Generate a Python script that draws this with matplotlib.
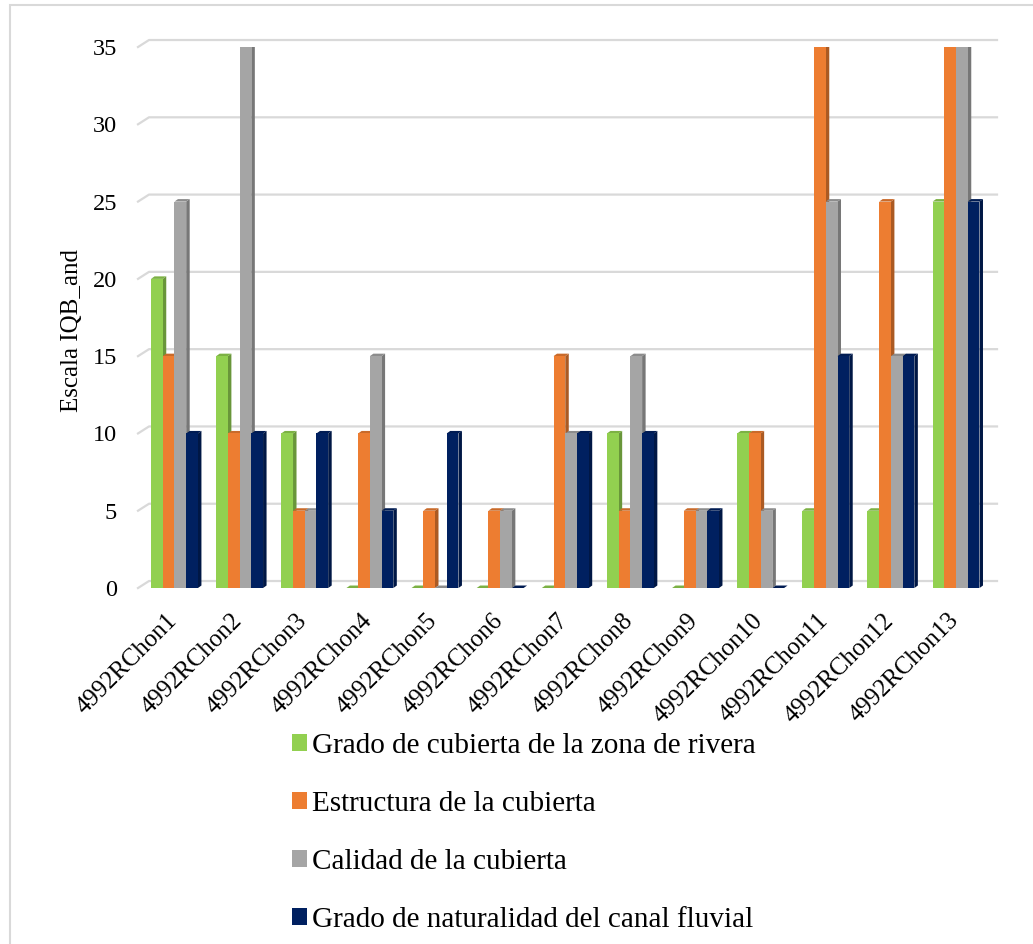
import numpy as np
import matplotlib.pyplot as plt
from matplotlib.patches import Polygon, Rectangle, Patch
from matplotlib.transforms import ScaledTranslation

plt.rcParams['font.family'] = ['Liberation Serif', 'DejaVu Serif']

categories = ['4992RChon%d' % i for i in range(1, 14)]
series_names = ['Grado de cubierta de la zona de rivera',
                'Estructura de la cubierta',
                'Calidad de la cubierta',
                'Grado de naturalidad del canal fluvial']
grado_cubierta = [20, 15, 10, 0, 0, 0, 0, 10, 0, 10, 5, 5, 25]
estructura = [15, 10, 5, 10, 5, 5, 15, 5, 5, 10, 35, 25, 35]
calidad = [25, 35, 5, 15, 0, 5, 10, 15, 5, 5, 25, 15, 35]
naturalidad = [10, 10, 10, 5, 10, 0, 10, 10, 5, 0, 15, 15, 25]
yticks = [0, 5, 10, 15, 20, 25, 30, 35]

colors = ['#92D050', '#ED7D31', '#A5A5A5', '#002060']
values = [grado_cubierta, estructura, calidad, naturalidad]


def shade(c, f):
    rgb = np.array(plt.matplotlib.colors.to_rgb(c))
    return tuple(rgb * f)


fig = plt.figure(figsize=(10.33, 9.44), dpi=100)
ax = fig.add_axes([0.1336, 0.3771, 0.8209, 0.5731])
xlim = (-0.56, 12.46)
ax.set_xlim(*xlim)
ax.set_ylim(0, 35)
for s in ax.spines.values():
    s.set_visible(False)
ax.patch.set_alpha(0)

# pixel -> data conversion for the 3d offsets
pos = ax.get_position()
px_x = fig.get_figwidth() * fig.dpi * pos.width / (xlim[1] - xlim[0])
px_y = fig.get_figheight() * fig.dpi * pos.height / 35.0

# back wall gridlines
gx, gy = 11 / px_x, 7 / px_y
for v in yticks:
    ax.plot([xlim[0], xlim[0] + gx, xlim[1] + gx], [v, v + gy, v + gy],
            color='#D9D9D9', lw=1.6, clip_on=False, zorder=0)

# 3d-looking bars
w = 0.18
dx, dy = 3.5 / px_x, 2.5 / px_y
x = np.arange(len(categories))
z = 1
for i in range(len(categories)):
    for k in range(4):
        h = values[k][i]
        x0 = x[i] - 2 * w + k * w
        x1 = x0 + w
        c = colors[k]
        side = Polygon([(x1, 0), (x1 + dx, dy), (x1 + dx, h + dy), (x1, h)],
                       closed=True, fc=shade(c, 0.72), ec='none', zorder=z)
        top = Polygon([(x0, h), (x0 + dx, h + dy), (x1 + dx, h + dy), (x1, h)],
                      closed=True, fc=shade(c, 0.85), ec='none', zorder=z)
        ax.add_patch(side)
        ax.add_patch(top)
        ax.bar(x0, h, width=w, align='edge', color=c, zorder=z + 0.5)
        z += 1

ax.set_yticks(yticks)
ax.set_xticks(x)
ax.set_xticklabels(categories, rotation=45, ha='right', va='center',
                   rotation_mode='anchor')
ax.tick_params(axis='y', length=0, pad=15, labelsize=17.5)
ax.tick_params(axis='x', length=0, pad=21, labelsize=17.8)
shift = ScaledTranslation(-1 / 100, 0, fig.dpi_scale_trans)
for lab in ax.get_xticklabels():
    lab.set_transform(lab.get_transform() + shift)

fig.text(72 / 1033, 1 - 330 / 944, 'Escala IQB_and', rotation=90,
         ha='center', va='center', fontsize=18)

handles = [Patch(facecolor=c, edgecolor='none') for c in colors]
fig.legend(handles, series_names, loc='upper left',
           bbox_to_anchor=(0.2712, 0.2363), frameon=False, fontsize=21,
           handlelength=0.52, handleheight=0.5, handletextpad=0.18,
           labelspacing=1.1, borderaxespad=0)

fig.patches.append(Rectangle((10 / 1033, -0.02), 1.0, 1 - 5 / 944 + 0.02,
                             transform=fig.transFigure, fill=False,
                             ec='#D9D9D9', lw=1.5))

fig.savefig('out.png', dpi=100)
